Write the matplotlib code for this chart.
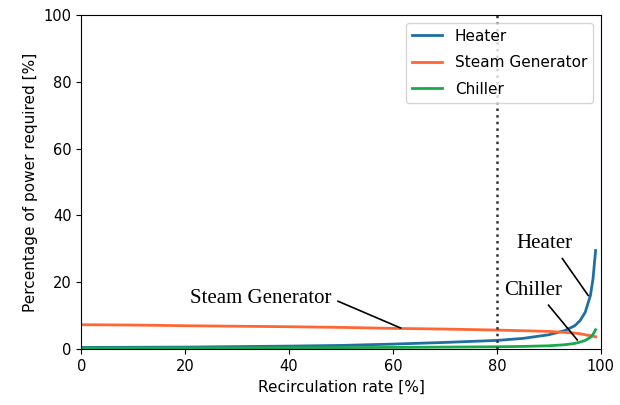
import matplotlib
matplotlib.use("Agg")
import numpy as np
import matplotlib.pyplot as plt

# ======================= DATA =======================
# tasa de recirculación (%) y potencia requerida (%)
rate = [0, 10, 20, 30, 40, 50, 60, 70, 80, 85, 90, 93, 95, 96, 97, 98, 98.5, 99]
heater = [0.5, 0.55, 0.6, 0.75, 0.9, 1.1, 1.5, 2.0, 2.6, 3.2, 4.3, 5.5, 7.0, 8.5, 11.0, 16.0, 21.0, 29.5]
steam = [7.3, 7.2, 7.0, 6.85, 6.7, 6.5, 6.2, 6.0, 5.7, 5.5, 5.3, 5.0, 4.8, 4.6, 4.3, 4.0, 3.85, 3.7]
chiller = [0.3, 0.32, 0.35, 0.38, 0.4, 0.45, 0.5, 0.6, 0.7, 0.8, 1.0, 1.3, 1.7, 2.1, 2.6, 3.5, 4.4, 5.8]
X_LIMIT = 80
# ====================================================

C_HEATER = "#1f6fa3"
C_STEAM = "#ff6633"
C_CHILLER = "#1aa84c"

fig = plt.figure(figsize=(6.2, 4.05), dpi=100)
ax = fig.add_axes([0.131, 0.138, 0.838, 0.825])

ax.plot(rate, heater, color=C_HEATER, lw=2, label="Heater")
ax.plot(rate, steam, color=C_STEAM, lw=2, label="Steam Generator")
ax.plot(rate, chiller, color=C_CHILLER, lw=2, label="Chiller")
ax.axvline(X_LIMIT, color="#333333", ls=":", lw=1.8)

ax.set_xlim(0, 100)
ax.set_ylim(0, 100)
ax.set_xticks(range(0, 101, 20))
ax.set_yticks(range(0, 101, 20))
ax.tick_params(labelsize=10.5)
ax.set_xlabel("Recirculation rate [%]", fontsize=11)
ax.set_ylabel("Percentage of power required [%]", fontsize=11)
ax.legend(loc="upper right", fontsize=11, labelspacing=0.75)

# anotaciones tipo paper (serif, sin flecha)
serif = dict(family="Liberation Serif", fontsize=15)
ax.annotate("Steam Generator", xy=(61.5, 6.3), xytext=(34.5, 15.2),
            ha="center", va="center", **serif,
            arrowprops=dict(arrowstyle="-", color="black", lw=1.2,
                            shrinkA=3, shrinkB=0, relpos=(1.0, 0.5)))
ax.annotate("Heater", xy=(97.6, 16.0), xytext=(89.2, 31.5),
            ha="center", va="center", **serif,
            arrowprops=dict(arrowstyle="-", color="black", lw=1.2,
                            shrinkA=2, shrinkB=0, relpos=(0.75, 0.0)))
ax.annotate("Chiller", xy=(95.5, 2.7), xytext=(86.9, 17.5),
            ha="center", va="center", **serif,
            arrowprops=dict(arrowstyle="-", color="black", lw=1.2,
                            shrinkA=2, shrinkB=0, relpos=(0.7, 0.0)))

fig.savefig("out.png", dpi=100)
